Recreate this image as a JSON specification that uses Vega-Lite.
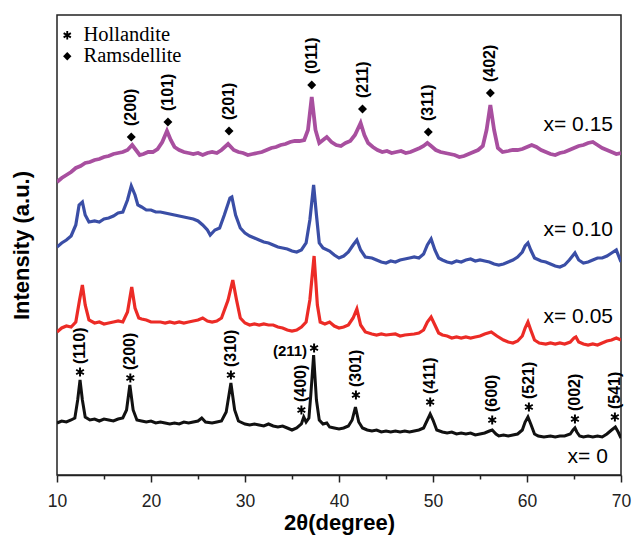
{
  "$schema": "https://vega.github.io/schema/vega-lite/v6.json",
  "width": 564,
  "height": 460,
  "autosize": "none",
  "padding": {"left": 57, "top": 15, "right": 12, "bottom": 69},
  "background": "white",
  "config": {
    "font": "Liberation Sans",
    "view": {"stroke": "#222", "strokeWidth": 1.5}
  },
  "datasets": {
    "s0": [
      {"t":10.0,"i":52},{"t":10.5,"i":54},{"t":11.0,"i":53},{"t":11.5,"i":55},{"t":11.9,"i":57},{"t":12.2,"i":75},{"t":12.45,"i":95},{"t":12.7,"i":75},{"t":13.0,"i":58},{"t":13.5,"i":55},
      {"t":14.0,"i":56},{"t":14.5,"i":54},{"t":15.0,"i":56},{"t":15.5,"i":55},{"t":16.0,"i":54},{"t":16.5,"i":56},{"t":17.0,"i":57},{"t":17.4,"i":65},{"t":17.75,"i":90},{"t":18.1,"i":65},
      {"t":18.5,"i":55},{"t":19.0,"i":54},{"t":19.5,"i":53},{"t":20.0,"i":54},{"t":20.5,"i":52},{"t":21.0,"i":53},{"t":21.5,"i":52},{"t":22.0,"i":51},{"t":22.5,"i":52},{"t":23.0,"i":51},
      {"t":23.5,"i":53},{"t":24.0,"i":52},{"t":24.5,"i":53},{"t":25.0,"i":54},{"t":25.4,"i":57},{"t":25.8,"i":53},{"t":26.5,"i":52},{"t":27.0,"i":53},{"t":27.5,"i":54},{"t":28.0,"i":63},
      {"t":28.5,"i":92},{"t":28.9,"i":65},{"t":29.3,"i":54},{"t":30.0,"i":51},{"t":30.5,"i":50},{"t":31.0,"i":51},{"t":31.5,"i":50},{"t":32.0,"i":49},{"t":32.5,"i":51},{"t":33.0,"i":49},
      {"t":33.5,"i":48},{"t":34.0,"i":49},{"t":34.5,"i":47},{"t":35.0,"i":45},{"t":35.5,"i":47},{"t":36.0,"i":51},{"t":36.25,"i":58},{"t":36.5,"i":53},{"t":36.8,"i":57},{"t":37.0,"i":80},
      {"t":37.3,"i":120},{"t":37.6,"i":75},{"t":37.9,"i":55},{"t":38.3,"i":51},{"t":38.7,"i":52},{"t":39.0,"i":48},{"t":39.5,"i":47},{"t":40.0,"i":46},{"t":40.5,"i":47},{"t":41.0,"i":49},
      {"t":41.4,"i":55},{"t":41.75,"i":68},{"t":42.1,"i":53},{"t":42.5,"i":47},{"t":43.0,"i":45},{"t":43.5,"i":44},{"t":44.0,"i":45},{"t":44.5,"i":43},{"t":45.0,"i":44},{"t":45.5,"i":43},
      {"t":46.0,"i":44},{"t":46.5,"i":43},{"t":47.0,"i":44},{"t":47.5,"i":43},{"t":48.0,"i":44},{"t":48.5,"i":45},{"t":49.0,"i":47},{"t":49.4,"i":55},{"t":49.7,"i":61},{"t":50.0,"i":55},
      {"t":50.4,"i":45},{"t":51.0,"i":43},{"t":51.5,"i":42},{"t":52.0,"i":43},{"t":52.5,"i":41},{"t":53.0,"i":42},{"t":53.5,"i":41},{"t":54.0,"i":42},{"t":54.5,"i":40},{"t":55.0,"i":41},
      {"t":55.5,"i":42},{"t":56.0,"i":44},{"t":56.3,"i":45},{"t":56.7,"i":41},{"t":57.0,"i":39},{"t":57.5,"i":40},{"t":58.0,"i":39},{"t":58.5,"i":40},{"t":59.0,"i":41},{"t":59.5,"i":45},
      {"t":59.8,"i":53},{"t":60.1,"i":58},{"t":60.4,"i":51},{"t":60.8,"i":41},{"t":61.2,"i":39},{"t":61.8,"i":38},{"t":62.5,"i":39},{"t":63.0,"i":38},{"t":63.5,"i":39},{"t":64.0,"i":39},
      {"t":64.6,"i":41},{"t":64.9,"i":45},{"t":65.1,"i":47},{"t":65.3,"i":43},{"t":65.6,"i":39},{"t":66.0,"i":38},{"t":66.5,"i":39},{"t":67.0,"i":38},{"t":67.5,"i":39},{"t":68.0,"i":38},
      {"t":68.5,"i":41},{"t":69.0,"i":45},{"t":69.4,"i":48},{"t":69.7,"i":43},{"t":70.0,"i":37}
    ],
    "s05": [
      {"t":10.0,"i":143},{"t":10.5,"i":147},{"t":11.0,"i":149},{"t":11.5,"i":148},{"t":12.0,"i":153},{"t":12.4,"i":175},{"t":12.7,"i":190},{"t":13.0,"i":170},{"t":13.4,"i":155},{"t":14.0,"i":152},
      {"t":14.5,"i":153},{"t":15.0,"i":151},{"t":15.5,"i":152},{"t":16.0,"i":153},{"t":16.5,"i":154},{"t":17.0,"i":153},{"t":17.5,"i":163},{"t":17.95,"i":188},{"t":18.3,"i":167},{"t":18.7,"i":157},
      {"t":19.0,"i":156},{"t":19.5,"i":155},{"t":20.0,"i":153},{"t":21.0,"i":153},{"t":21.5,"i":152},{"t":22.0,"i":153},{"t":22.5,"i":152},{"t":23.0,"i":153},{"t":23.5,"i":152},{"t":24.0,"i":153},
      {"t":24.5,"i":154},{"t":25.0,"i":155},{"t":25.5,"i":157},{"t":26.0,"i":154},{"t":26.5,"i":153},{"t":27.0,"i":154},{"t":27.5,"i":157},{"t":28.2,"i":175},{"t":28.7,"i":195},{"t":29.1,"i":175},
      {"t":29.5,"i":157},{"t":30.0,"i":152},{"t":30.5,"i":150},{"t":31.0,"i":151},{"t":31.5,"i":150},{"t":32.0,"i":151},{"t":32.5,"i":150},{"t":33.0,"i":150},{"t":33.5,"i":148},{"t":34.0,"i":147},
      {"t":34.5,"i":145},{"t":35.0,"i":144},{"t":35.5,"i":145},{"t":36.0,"i":148},{"t":36.5,"i":153},{"t":36.9,"i":175},{"t":37.35,"i":219},{"t":37.7,"i":170},{"t":38.0,"i":153},{"t":38.5,"i":151},
      {"t":39.0,"i":153},{"t":39.5,"i":149},{"t":40.0,"i":147},{"t":40.5,"i":148},{"t":41.0,"i":150},{"t":41.5,"i":157},{"t":41.9,"i":166},{"t":42.3,"i":150},{"t":42.8,"i":143},{"t":43.5,"i":141},
      {"t":44.0,"i":140},{"t":44.5,"i":141},{"t":45.0,"i":140},{"t":46.0,"i":141},{"t":46.5,"i":139},{"t":47.0,"i":140},{"t":48.0,"i":141},{"t":48.5,"i":142},{"t":49.0,"i":145},{"t":49.4,"i":153},
      {"t":49.8,"i":158},{"t":50.2,"i":150},{"t":50.6,"i":142},{"t":51.0,"i":140},{"t":51.5,"i":139},{"t":52.0,"i":137},{"t":52.5,"i":138},{"t":53.0,"i":137},{"t":53.5,"i":138},{"t":54.0,"i":137},
      {"t":54.5,"i":138},{"t":55.0,"i":139},{"t":55.5,"i":141},{"t":56.2,"i":143},{"t":56.8,"i":139},{"t":57.5,"i":135},{"t":58.0,"i":133},{"t":58.5,"i":132},{"t":59.0,"i":134},{"t":59.5,"i":139},
      {"t":59.8,"i":147},{"t":60.1,"i":153},{"t":60.4,"i":145},{"t":60.8,"i":135},{"t":61.3,"i":132},{"t":62.0,"i":131},{"t":62.5,"i":132},{"t":63.0,"i":131},{"t":63.5,"i":132},{"t":64.0,"i":131},
      {"t":64.6,"i":133},{"t":65.0,"i":137},{"t":65.2,"i":138},{"t":65.5,"i":133},{"t":66.0,"i":131},{"t":66.5,"i":130},{"t":67.0,"i":131},{"t":67.5,"i":130},{"t":68.0,"i":132},{"t":68.5,"i":134},
      {"t":69.0,"i":135},{"t":69.5,"i":137},{"t":70.0,"i":135}
    ],
    "s10": [
      {"t":10.0,"i":228},{"t":10.5,"i":232},{"t":11.0,"i":235},{"t":11.5,"i":239},{"t":12.0,"i":250},{"t":12.35,"i":270},{"t":12.7,"i":273},{"t":13.0,"i":260},{"t":13.4,"i":253},{"t":14.0,"i":254},
      {"t":14.5,"i":253},{"t":15.0,"i":256},{"t":15.5,"i":257},{"t":16.0,"i":259},{"t":16.5,"i":262},{"t":17.0,"i":263},{"t":17.5,"i":275},{"t":17.9,"i":289},{"t":18.3,"i":280},{"t":18.6,"i":270},
      {"t":19.0,"i":268},{"t":19.5,"i":265},{"t":20.0,"i":265},{"t":20.5,"i":263},{"t":21.0,"i":263},{"t":21.5,"i":262},{"t":22.0,"i":261},{"t":22.5,"i":260},{"t":23.0,"i":259},{"t":23.5,"i":258},
      {"t":24.0,"i":257},{"t":24.5,"i":256},{"t":25.0,"i":254},{"t":25.5,"i":250},{"t":26.0,"i":245},{"t":26.3,"i":240},{"t":26.8,"i":245},{"t":27.3,"i":247},{"t":27.8,"i":260},{"t":28.4,"i":277},
      {"t":28.6,"i":278},{"t":29.0,"i":260},{"t":29.5,"i":247},{"t":30.0,"i":242},{"t":30.5,"i":239},{"t":31.0,"i":237},{"t":31.5,"i":235},{"t":32.0,"i":233},{"t":32.5,"i":232},{"t":33.0,"i":230},
      {"t":33.5,"i":228},{"t":34.0,"i":227},{"t":34.5,"i":226},{"t":35.0,"i":224},{"t":35.5,"i":223},{"t":36.0,"i":225},{"t":36.5,"i":232},{"t":36.9,"i":255},{"t":37.3,"i":290},{"t":37.6,"i":260},
      {"t":37.9,"i":232},{"t":38.3,"i":227},{"t":39.0,"i":224},{"t":39.5,"i":220},{"t":40.0,"i":217},{"t":40.5,"i":219},{"t":41.0,"i":223},{"t":41.5,"i":230},{"t":41.9,"i":235},{"t":42.3,"i":225},
      {"t":42.8,"i":218},{"t":43.5,"i":217},{"t":44.0,"i":215},{"t":44.5,"i":213},{"t":45.0,"i":212},{"t":45.5,"i":214},{"t":46.0,"i":213},{"t":46.5,"i":215},{"t":47.0,"i":216},{"t":47.5,"i":217},
      {"t":48.0,"i":218},{"t":48.5,"i":217},{"t":49.0,"i":221},{"t":49.4,"i":230},{"t":49.8,"i":236},{"t":50.2,"i":225},{"t":50.6,"i":217},{"t":51.0,"i":215},{"t":51.5,"i":213},{"t":52.0,"i":212},
      {"t":52.5,"i":214},{"t":53.0,"i":213},{"t":53.5,"i":215},{"t":54.0,"i":216},{"t":54.5,"i":214},{"t":55.0,"i":215},{"t":55.5,"i":214},{"t":56.0,"i":213},{"t":56.5,"i":211},{"t":57.0,"i":210},
      {"t":57.5,"i":211},{"t":58.0,"i":213},{"t":58.5,"i":215},{"t":59.0,"i":218},{"t":59.5,"i":223},{"t":59.8,"i":229},{"t":60.1,"i":232},{"t":60.4,"i":225},{"t":60.8,"i":217},{"t":61.5,"i":214},
      {"t":62.0,"i":213},{"t":62.5,"i":211},{"t":63.0,"i":209},{"t":63.5,"i":208},{"t":64.0,"i":210},{"t":64.5,"i":215},{"t":65.1,"i":222},{"t":65.5,"i":215},{"t":66.0,"i":212},{"t":66.5,"i":213},
      {"t":67.0,"i":215},{"t":67.5,"i":217},{"t":68.0,"i":217},{"t":68.5,"i":219},{"t":69.0,"i":222},{"t":69.5,"i":225},{"t":70.0,"i":213}
    ],
    "s15": [
      {"t":10.0,"i":293},{"t":10.5,"i":297},{"t":11.0,"i":300},{"t":11.5,"i":303},{"t":12.0,"i":307},{"t":12.5,"i":309},{"t":13.0,"i":312},{"t":13.5,"i":313},{"t":14.0,"i":315},{"t":14.5,"i":316},
      {"t":15.0,"i":318},{"t":15.5,"i":319},{"t":16.0,"i":321},{"t":16.5,"i":322},{"t":17.0,"i":323},{"t":17.5,"i":325},{"t":18.0,"i":330},{"t":18.4,"i":325},{"t":18.8,"i":320},{"t":19.2,"i":321},
      {"t":19.7,"i":323},{"t":20.2,"i":323},{"t":20.7,"i":326},{"t":21.2,"i":333},{"t":21.7,"i":344},{"t":22.1,"i":335},{"t":22.5,"i":328},{"t":23.0,"i":325},{"t":23.5,"i":323},{"t":24.0,"i":322},
      {"t":24.5,"i":321},{"t":25.0,"i":322},{"t":25.5,"i":320},{"t":26.0,"i":322},{"t":26.5,"i":323},{"t":27.0,"i":322},{"t":27.5,"i":325},{"t":28.2,"i":331},{"t":28.8,"i":325},{"t":29.3,"i":323},
      {"t":29.8,"i":322},{"t":30.3,"i":320},{"t":30.8,"i":321},{"t":31.3,"i":322},{"t":31.8,"i":323},{"t":32.3,"i":325},{"t":32.8,"i":327},{"t":33.3,"i":328},{"t":33.8,"i":330},{"t":34.3,"i":331},
      {"t":34.8,"i":333},{"t":35.3,"i":334},{"t":35.8,"i":334},{"t":36.3,"i":335},{"t":36.7,"i":345},{"t":37.1,"i":378},{"t":37.5,"i":345},{"t":37.9,"i":332},{"t":38.3,"i":335},{"t":38.7,"i":338},
      {"t":39.2,"i":333},{"t":39.7,"i":330},{"t":40.2,"i":329},{"t":40.7,"i":332},{"t":41.2,"i":334},{"t":41.7,"i":340},{"t":42.3,"i":352},{"t":42.7,"i":340},{"t":43.1,"i":332},{"t":43.6,"i":328},
      {"t":44.1,"i":325},{"t":44.6,"i":323},{"t":45.1,"i":324},{"t":45.6,"i":322},{"t":46.1,"i":323},{"t":46.6,"i":324},{"t":47.1,"i":322},{"t":47.6,"i":323},{"t":48.1,"i":325},{"t":48.6,"i":327},
      {"t":49.0,"i":329},{"t":49.4,"i":332},{"t":49.8,"i":329},{"t":50.3,"i":325},{"t":50.8,"i":323},{"t":51.3,"i":322},{"t":51.8,"i":321},{"t":52.3,"i":320},{"t":52.8,"i":318},{"t":53.3,"i":319},
      {"t":53.8,"i":321},{"t":54.3,"i":323},{"t":54.8,"i":325},{"t":55.3,"i":329},{"t":55.7,"i":345},{"t":56.1,"i":370},{"t":56.5,"i":345},{"t":56.9,"i":327},{"t":57.4,"i":323},{"t":58.0,"i":324},
      {"t":58.5,"i":325},{"t":59.0,"i":325},{"t":59.5,"i":326},{"t":60.0,"i":328},{"t":60.5,"i":330},{"t":61.0,"i":328},{"t":61.5,"i":325},{"t":62.0,"i":323},{"t":62.5,"i":321},{"t":63.0,"i":320},
      {"t":63.5,"i":322},{"t":64.0,"i":323},{"t":64.5,"i":325},{"t":65.0,"i":327},{"t":65.5,"i":329},{"t":66.0,"i":330},{"t":66.5,"i":332},{"t":67.0,"i":333},{"t":67.5,"i":330},{"t":68.0,"i":327},
      {"t":68.5,"i":325},{"t":69.0,"i":323},{"t":69.5,"i":321},{"t":70.0,"i":322}
    ],
    "peaks": [
      {"phase":"Hollandite","hkl":"(110)","t":12.45,"i":103},
      {"phase":"Hollandite","hkl":"(200)","t":17.8,"i":97},
      {"phase":"Hollandite","hkl":"(310)","t":28.5,"i":100},
      {"phase":"Hollandite","hkl":"(400)","t":36.0,"i":65},
      {"phase":"Hollandite","hkl":"(211)","t":37.35,"i":127},
      {"phase":"Hollandite","hkl":"(301)","t":41.8,"i":80},
      {"phase":"Hollandite","hkl":"(411)","t":49.7,"i":73},
      {"phase":"Hollandite","hkl":"(600)","t":56.3,"i":55},
      {"phase":"Hollandite","hkl":"(521)","t":60.2,"i":68},
      {"phase":"Hollandite","hkl":"(002)","t":65.1,"i":56},
      {"phase":"Hollandite","hkl":"(541)","t":69.35,"i":58},
      {"phase":"Ramsdellite","hkl":"(200)","t":17.9,"i":338},
      {"phase":"Ramsdellite","hkl":"(101)","t":21.8,"i":353},
      {"phase":"Ramsdellite","hkl":"(201)","t":28.3,"i":344},
      {"phase":"Ramsdellite","hkl":"(011)","t":37.1,"i":390},
      {"phase":"Ramsdellite","hkl":"(211)","t":42.5,"i":366},
      {"phase":"Ramsdellite","hkl":"(311)","t":49.5,"i":343},
      {"phase":"Ramsdellite","hkl":"(402)","t":56.1,"i":382}
    ],
    "labels": [
      {"label":"x= 0.15","t":69.15,"i":350},
      {"label":"x= 0.10","t":69.15,"i":245},
      {"label":"x= 0.05","t":69.15,"i":158},
      {"label":"x= 0","t":68.6,"i":18}
    ]
  },
  "encoding": {
    "x": {
      "field": "t", "type": "quantitative",
      "scale": {"domain": [10, 70], "nice": false, "zero": false},
      "axis": {
        "title": "2θ(degree)",
        "values": [10,15,20,25,30,35,40,45,50,55,60,65,70],
        "labelExpr": "datum.value % 10 === 0 ? datum.label : ''",
        "tickSize": {"condition": {"test": "datum.value % 10 !== 0", "value": 4}, "value": 7},
        "grid": false,
        "domainColor": "#222", "domainWidth": 1.5,
        "tickColor": "#222", "tickWidth": 1.5,
        "labelFont": "Liberation Sans", "labelFontSize": 17.5, "labelColor": "#222",
        "labelPadding": 10, "labelFlush": false,
        "titleFont": "Liberation Sans", "titleFontSize": 22, "titleFontWeight": "bold",
        "titleColor": "black", "titlePadding": 3
      }
    },
    "y": {
      "field": "i", "type": "quantitative",
      "scale": {"domain": [0, 460], "nice": false, "zero": false},
      "axis": {
        "title": "Intensity (a.u.)",
        "labels": false, "ticks": false, "domain": false, "grid": false,
        "titleFont": "Liberation Sans", "titleFontSize": 22, "titleFontWeight": "bold",
        "titleColor": "black", "titlePadding": 24
      }
    }
  },
  "layer": [
    {"data": {"name": "s0"}, "mark": {"type": "line", "color": "#111111", "strokeWidth": 3, "clip": true}},
    {"data": {"name": "s05"}, "mark": {"type": "line", "color": "#ec2b26", "strokeWidth": 3.2, "clip": true}},
    {"data": {"name": "s10"}, "mark": {"type": "line", "color": "#3a4ea6", "strokeWidth": 3.2, "clip": true}},
    {"data": {"name": "s15"}, "mark": {"type": "line", "color": "#a84f9f", "strokeWidth": 3.8, "clip": true}},
    {
      "data": {"name": "peaks"},
      "mark": {"type": "point", "filled": true, "fill": "black", "size": 80, "opacity": 1},
      "encoding": {
        "shape": {
          "field": "phase", "type": "nominal",
          "scale": {"domain": ["Hollandite", "Ramsdellite"], "range": ["M-0.22,-1L0.22,-1L0.22,1L-0.22,1ZM0.756,-0.6905L0.976,-0.3095L-0.756,0.6905L-0.976,0.3095ZM0.976,0.3095L0.756,0.6905L-0.976,-0.3095L-0.756,-0.6905Z", "diamond"]},
          "legend": {
            "title": null, "orient": "none", "legendX": 0, "legendY": 10,
            "labelFont": "Liberation Serif", "labelFontSize": 20.5, "labelColor": "black",
            "symbolFillColor": "black", "symbolSize": 70, "rowPadding": -1, "padding": 0, "labelOffset": 6,
            "encode": {"symbols": {"update": {"fill": {"value": "black"}, "opacity": {"value": 1}}}}
          }
        }
      }
    },
    {
      "data": {"name": "peaks"},
      "transform": [{"filter": "datum.phase === 'Hollandite' && datum.hkl !== '(211)'"}],
      "mark": {"type": "text", "angle": 270, "align": "left", "baseline": "middle", "dx": 8, "font": "Liberation Sans", "fontSize": 16, "fontWeight": "bold", "color": "black"},
      "encoding": {"text": {"field": "hkl"}}
    },
    {
      "data": {"name": "peaks"},
      "transform": [{"filter": "datum.phase === 'Hollandite' && datum.hkl === '(211)'"}],
      "mark": {"type": "text", "align": "right", "baseline": "middle", "dx": -7, "dy": 3, "font": "Liberation Sans", "fontSize": 15, "fontWeight": "bold", "color": "black"},
      "encoding": {"text": {"field": "hkl"}}
    },
    {
      "data": {"name": "peaks"},
      "transform": [{"filter": "datum.phase === 'Ramsdellite'"}],
      "mark": {"type": "text", "angle": 270, "align": "left", "baseline": "middle", "dx": 11, "font": "Liberation Sans", "fontSize": 16, "fontWeight": "bold", "color": "black"},
      "encoding": {"text": {"field": "hkl"}}
    },
    {
      "data": {"name": "labels"},
      "mark": {"type": "text", "align": "right", "baseline": "middle", "font": "Liberation Sans", "fontSize": 21, "color": "black"},
      "encoding": {"text": {"field": "label"}}
    }
  ]
}
